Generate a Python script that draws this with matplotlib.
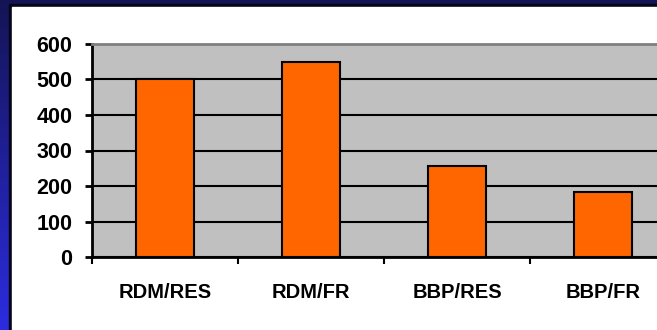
import numpy as np
import matplotlib.pyplot as plt
from matplotlib.patches import Rectangle

# chart data
categories = ["RDM/RES", "RDM/FR", "BBP/RES", "BBP/FR"]
values = [500, 550, 255, 182]
y_ticks = [0, 100, 200, 300, 400, 500, 600]

W, H = 657, 330
fig = plt.figure(figsize=(W / 100, H / 100), dpi=100)

# blue gradient slide background
bg = fig.add_axes([0, 0, 1, 1])
bg.set_axis_off()
top = np.array([0x14, 0x14, 0x55]) / 255
bot = np.array([0x2c, 0x2c, 0xe0]) / 255
t = np.linspace(0, 1, 256)[:, None]
grad = (top * (1 - t) + bot * t)[:, None, :]
bg.imshow(grad, aspect="auto", extent=[0, W, H, 0])
bg.set_xlim(0, W)
bg.set_ylim(H, 0)
# dark frame and white chart panel
bg.add_patch(Rectangle((9, 4), W, H, color="#05051a", zorder=2))
bg.add_patch(Rectangle((12, 6.5), W, H, color="white", zorder=3))

# plot area (runs off the right edge like the original)
left, right, ytop, ybot = 92, 676, 44, 257
ax = fig.add_axes([left / W, (H - ybot) / H, (right - left) / W, (ybot - ytop) / H])
ax.set_facecolor("#c0c0c0")
x = np.arange(len(categories))
ax.bar(x, values, width=0.4, color="#ff6600", edgecolor="black", linewidth=1.5, zorder=3)

ax.set_xlim(-0.5, len(categories) - 0.5)
ax.set_ylim(0, 600)
ax.set_yticks(y_ticks)
ax.set_yticklabels([str(v) for v in y_ticks])
ax.set_xticks(x)
ax.set_xticklabels(categories)
ax.set_xticks(np.arange(-0.5, len(categories)), minor=True)

ax.yaxis.grid(True, color="black", linewidth=1.5, zorder=1)
ax.set_axisbelow(True)

for lbl in ax.get_xticklabels():
    lbl.set_fontfamily("Liberation Sans")
    lbl.set_fontweight("bold")
    lbl.set_fontsize(14.5)
for lbl in ax.get_yticklabels():
    lbl.set_fontfamily("Liberation Sans")
    lbl.set_fontweight("bold")
    lbl.set_fontsize(15.5)

ax.tick_params(axis="y", direction="out", length=5, width=2, pad=9, colors="black")
ax.tick_params(axis="x", which="major", length=0, pad=19)
ax.tick_params(axis="x", which="minor", direction="out", length=5, width=1.5)

ax.spines["left"].set_linewidth(2)
ax.spines["bottom"].set_linewidth(2)
ax.spines["top"].set_color("#808080")
ax.spines["top"].set_linewidth(2)
ax.spines["right"].set_visible(False)

fig.savefig("out.png", dpi=100)
